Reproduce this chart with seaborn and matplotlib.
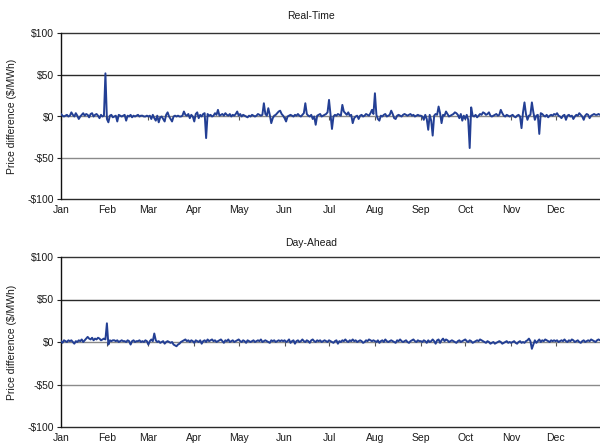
import pandas as pd
import matplotlib.pyplot as plt
import seaborn as sns

# Diferença de preço diária ($/MWh), mês a mês
rt_jan = [3, 1, 0, 1, 2, 0, 1, 5, 2, 0, 4, 1, -3, 0, 2, 4, 1, 3, 2, -1, 3, 4, 0, 2, 3, 1, -2, 2, 0, 1, 52]
rt_feb = [-3, -7, 1, 2, -1, 0, 1, -6, 2, 1, 0, 1, 2, -5, 1, 0, 2, -1, 1, 0, 1, 2, 0, 1, 1, 0, 0, 1]
rt_mar = [0, 1, -3, 2, -2, -5, 1, -7, -1, 0, -3, -6, 2, 5, 0, -3, -6, 0, 1, 0, 1, 0, 0, 1, 6, 2, 1, 3, -2, 2, 0]
rt_apr = [-6, 3, 5, -2, 2, 0, 3, 4, -26, 3, 1, 2, 0, 1, 4, 2, 8, 1, 2, 3, 1, 4, 2, 1, 3, 0, 2, 1, 3, 6]
rt_may = [1, 3, 0, 2, 1, 0, -1, 1, 0, 2, 1, 0, 1, 3, 2, 1, 2, 16, 3, 1, 10, 2, -8, -2, 1, 2, 4, 6, 7, 3, 1]
rt_jun = [-2, -6, 0, 1, 2, 1, 0, 2, 1, 3, 1, 0, 2, 4, 16, 3, 1, 0, 2, -3, 0, -10, 1, 2, 3, 0, 1, 2, 3, 5]
rt_jul = [20, 3, -15, 0, 2, 1, 3, 2, 1, 14, 6, 4, 2, 5, 1, 2, -8, -2, 0, 1, -3, 1, 2, 0, 1, 3, 2, 1, 4, 8, 3]
rt_aug = [28, 2, -3, -5, 1, 0, 2, 3, 0, 1, 2, 7, 3, -2, -3, 1, 2, 1, 0, 2, 3, 2, 1, 2, 3, 1, 2, 0, 1, 2, 1]
rt_sep = [1, 0, -4, 2, -3, -16, 2, -5, -23, 1, 3, 2, 12, 4, -8, 2, 1, 6, 3, 0, 1, 2, 3, 5, 4, 2, -2, 3, -5, 1]
rt_oct = [-3, 2, -4, -38, 11, 1, 0, 2, -1, 1, 3, 2, 5, 4, 2, 3, 5, 1, 0, 1, 2, 3, 1, 2, 8, 4, 1, 0, 2, 1, 0]
rt_nov = [1, 2, 0, -1, 1, 2, 0, -14, 5, 17, 3, -4, 1, 2, 17, 5, -4, 1, 2, -21, 4, 3, 1, 0, 2, -1, 1, 2, 1, 3]
rt_dec = [2, 4, 1, 0, -2, 1, 2, -4, 1, 2, 0, 1, -3, 0, 2, 1, 4, 2, 0, -4, 1, 3, 2, -2, 1, 2, 3, 2, 2, 3, 2]

da_jan = [1, -1, 2, 1, 0, 2, 1, 2, 0, -2, 1, 0, 2, 1, 3, 0, 2, 4, 6, 4, 3, 5, 2, 4, 3, 5, 4, 2, 3, 4, 3]
da_feb = [22, -3, 2, 1, 2, 2, 1, 2, 0, 1, 2, 1, 1, 0, 2, 1, -3, 1, 2, 0, 1, 1, 2, 0, 1, 0, 2, 1]
da_mar = [-3, 1, 3, 1, 10, 2, 0, 1, -1, 0, 1, -2, 0, 1, 0, -1, 0, -3, -4, -5, -3, -2, 0, 1, 2, 3, 1, 2, 0, 2, 1]
da_apr = [-1, 2, 1, 0, 2, -2, 1, 2, 0, 3, 1, 2, 3, 1, 2, 0, 1, 2, 3, 1, -1, 2, 1, 3, 0, 1, 2, 0, 1, 2]
da_may = [3, 1, 0, 2, 1, -1, 2, 1, 0, 1, 2, 0, 1, 2, 1, 3, 0, 1, 2, 1, 0, -1, 2, 1, 2, 0, 1, 2, 1, 2, 1]
da_jun = [2, 0, 1, 3, -1, 1, 2, -2, 1, 2, 0, 1, 3, 1, 0, 2, 1, -1, 2, 3, 1, 0, 2, 1, 2, 0, 1, 2, 1, 0]
da_jul = [2, 1, 0, -1, 1, 2, -2, 1, 0, 2, 1, 3, 1, 0, 2, 1, 3, 1, 2, 0, 1, 2, 1, -1, 0, 2, 1, 3, 2, 1, 2]
da_aug = [1, 0, 2, -1, 1, 2, 0, 3, 1, 0, 1, 2, 1, 0, -1, 2, 1, 3, 1, 0, 1, 2, 0, -1, 1, 2, 3, 1, 0, 2, 1]
da_sep = [1, 0, 2, 1, -1, 2, 0, 1, 3, 1, -2, 2, 3, -1, 2, 4, 1, 3, 2, 0, 1, 2, 1, 0, -1, 1, 2, 0, 1, 2]
da_oct = [3, 1, 0, 2, 1, -1, 0, 1, 2, 1, 3, 2, 1, 0, -1, 1, 0, -2, -1, 0, -2, -1, 0, 1, 0, -2, -1, 0, 1, -1, 0]
da_nov = [-1, 0, 1, -1, -2, 0, 1, -1, 0, -1, 1, 2, 4, 1, -8, -3, 2, -1, 1, 3, 0, 2, 1, 3, 2, 1, 0, 2, 1, 2]
da_dec = [1, 2, 0, 1, 2, 1, 3, 1, 0, 2, 1, 3, 2, 0, 1, 2, 0, -1, 1, 2, 0, 1, 2, 1, 3, 2, 1, 0, 2, 3, 2]

meses = ['Jan', 'Feb', 'Mar', 'Apr', 'May', 'Jun', 'Jul', 'Aug', 'Sep', 'Oct', 'Nov', 'Dec']
y_ticks = [-100, -50, 0, 50, 100]
y_labels = ['-$100', '-$50', '$0', '$50', '$100']

real_time = (rt_jan + rt_feb + rt_mar + rt_apr + rt_may + rt_jun
             + rt_jul + rt_aug + rt_sep + rt_oct + rt_nov + rt_dec)
day_ahead = (da_jan + da_feb + da_mar + da_apr + da_may + da_jun
             + da_jul + da_aug + da_sep + da_oct + da_nov + da_dec)

datas = pd.date_range('2009-01-01', periods=len(real_time), freq='D')
dados = pd.DataFrame({'data': datas, 'Real-Time': real_time, 'Day-Ahead': day_ahead})

sns.set_style('white')
plt.rcParams['font.family'] = ['Liberation Sans', 'DejaVu Sans']

fig = plt.figure(figsize=(6, 4.48), dpi=100)
ax_rt = fig.add_axes([61 / 600, 1 - 199.5 / 448, 539 / 600, 166 / 448])
ax_da = fig.add_axes([61 / 600, 1 - 427 / 448, 539 / 600, 170 / 448])

inicio_meses = pd.date_range('2009-01-01', periods=12, freq='MS')

for ax, serie, ytit in [(ax_rt, 'Real-Time', 1 - 16 / 448),
                        (ax_da, 'Day-Ahead', 1 - 243 / 448)]:
    # Linhas de grade horizontais
    for v, cor in [(100, '#333333'), (50, '#2a2a2a'), (-50, '#8a8a8a'), (-100, '#2a2a2a')]:
        ax.axhline(v, color=cor, lw=1.0, zorder=1, clip_on=False)

    sns.lineplot(x='data', y=serie, data=dados, ax=ax, color='#233f94', lw=1.4, zorder=3)

    ax.set_ylim(-100, 100)
    ax.set_xlim(datas[0], datas[-1])
    ax.set_yticks(y_ticks)
    ax.set_yticklabels(y_labels, fontsize=7.5, color='#1a1a1a')
    ax.tick_params(axis='y', length=3, width=0.8, color='#222222', pad=2, left=True)

    # Eixo horizontal cruza em zero (estilo Excel), rótulos embaixo
    ax.spines['bottom'].set_position(('data', 0))
    ax.spines['bottom'].set_color('#888888')
    ax.spines['bottom'].set_linewidth(1.0)
    ax.spines['bottom'].set_zorder(2)
    ax.set_xticks(inicio_meses)
    ax.tick_params(axis='x', length=3, width=0.8, color='#555555', direction='out',
                   labelbottom=False, bottom=True)
    for s in ['top', 'right']:
        ax.spines[s].set_visible(False)
    ax.spines['left'].set_color('#111111')
    ax.spines['left'].set_linewidth(1.0)

    sec = ax.secondary_xaxis('bottom')
    sec.set_xticks(inicio_meses)
    sec.set_xticklabels(meses, fontsize=7.5, color='#1a1a1a')
    sec.tick_params(length=0, pad=4)
    sec.spines['bottom'].set_visible(False)

    ax.set_xlabel('')
    ax.set_ylabel('Price difference ($/MWh)', fontsize=7.5, color='#1a1a1a')
    ax.yaxis.set_label_coords(-44 / 539, 0.5)

    fig.text(311 / 600, ytit, serie, ha='center', va='center', fontsize=7.5, color='#1a1a1a')

fig.savefig('out.png', dpi=100)
